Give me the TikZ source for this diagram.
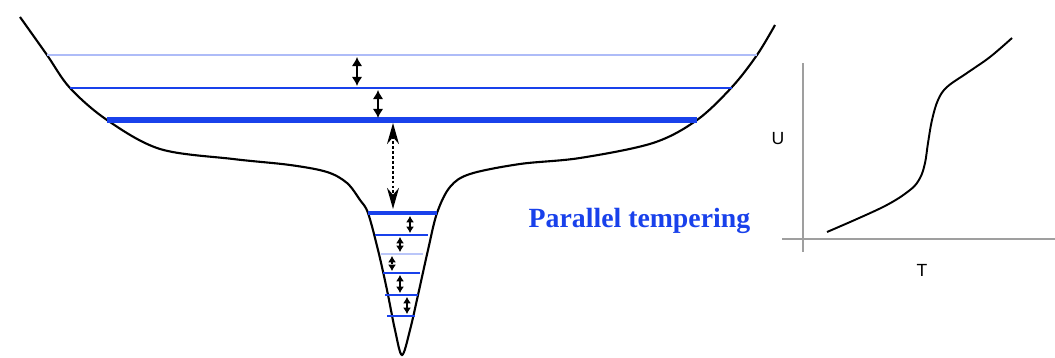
\documentclass[tikz,border=0pt]{standalone}
\usepackage{fontspec}
\setmainfont{Liberation Serif}
\setsansfont{Liberation Sans}
\usetikzlibrary{arrows.meta}
\definecolor{lvlblue}{RGB}{25, 65, 235}

\begin{document}
\begin{tikzpicture}[x=0.01cm, y=-0.01cm,
  level/.style={lvlblue, line width=0.6pt},
  hop/.style={line width=0.4pt, {Latex[length=2.6pt,width=3pt]}-{Latex[length=2.6pt,width=3pt]}},
  smallhop/.style={line width=0.4pt, {Latex[length=1.8pt,width=2.3pt]}-{Latex[length=1.8pt,width=2.3pt]}},
  axis/.style={gray!75, line width=0.5pt}]
  \useasboundingbox (0,0) rectangle (1055,358);

  % Energy landscape (funnel)
  \draw[line width=0.6pt] plot[smooth, tension=0.55] coordinates {
    (20,17) (47,55) (70,88) (107,120) (160,149)
    (233,159) (290,165) (327,172) (347,183) (360,200) (368,213)
    (378,250) (387,290) (395,330) (402,355) (410,330) (418,295) (428,250)
    (437,213) (450,187) (470,174) (520,164) (580,158) (653,143) (697,120)
    (732,87) (757,55) (775,25)};

  % Temperature levels (wide part)
  \draw[level, lvlblue!35, line width=0.7pt] (47,55) -- (757,55);
  \draw[level] (70,88) -- (732,88);
  \draw[level, line width=1.5pt] (107,120) -- (697,120);

  % Temperature levels (inside the well)
  \draw[level, line width=1.2pt] (368,213) -- (437,213);
  \draw[level] (375,235) -- (428,235);
  \draw[level, lvlblue!30] (381,254) -- (423,254);
  \draw[level] (383,273) -- (420,273);
  \draw[level] (385,295) -- (418,295);
  \draw[level] (387,316) -- (415,316);

  % Swap arrows
  \coordinate (s1a) at (357,57);  \coordinate (s1b) at (357,86);
  \coordinate (s2a) at (378,90);  \coordinate (s2b) at (378,118);
  \coordinate (s3a) at (393,123); \coordinate (s3b) at (393,209);
  \draw[hop] (s1a) -- (s1b);
  \draw[hop] (s2a) -- (s2b);
  \draw[line width=0.5pt, dash pattern=on 0.8pt off 0.6pt,
    {Stealth[length=6pt,width=3.4pt]}-{Stealth[length=6pt,width=3.4pt]}] (s3a) -- (s3b);

  \coordinate (w1a) at (410,216); \coordinate (w1b) at (410,233);
  \coordinate (w2a) at (400,237); \coordinate (w2b) at (400,252);
  \coordinate (w3a) at (392,256); \coordinate (w3b) at (392,271);
  \coordinate (w4a) at (400,275); \coordinate (w4b) at (400,293);
  \coordinate (w5a) at (407,297); \coordinate (w5b) at (407,314);
  \draw[smallhop] (w1a) -- (w1b);
  \draw[smallhop] (w2a) -- (w2b);
  \draw[smallhop, dash pattern=on 0.6pt off 0.5pt] (w3a) -- (w3b);
  \draw[smallhop] (w4a) -- (w4b);
  \draw[smallhop] (w5a) -- (w5b);

  \node[anchor=base west, inner sep=0pt, text=lvlblue, font=\fontsize{7.9}{9}\selectfont\bfseries]
    (pt) at (528,228) {Parallel tempering};

  % U(T) plot
  \coordinate (ytop) at (803,63);   \coordinate (ybot) at (803,252);
  \coordinate (xleft) at (782,239); \coordinate (xright) at (1055,239);
  \draw[axis] (ybot) -- (ytop);
  \draw[axis] (xleft) -- (xright);
  \node[anchor=base, inner sep=0pt, font=\sffamily\fontsize{5}{6}\selectfont] (lu) at (778,145) {U};
  \node[anchor=base, inner sep=0pt, font=\sffamily\fontsize{5}{6}\selectfont] (lt) at (922,277) {T};
  \draw[line width=0.55pt] plot[smooth, tension=0.6] coordinates {
    (827,232) (883,207) (910,190) (920,178) (925,163) (928,143) (932,120)
    (938,100) (947,87) (967,73) (990,57) (1012,38)};
\end{tikzpicture}
\end{document}
